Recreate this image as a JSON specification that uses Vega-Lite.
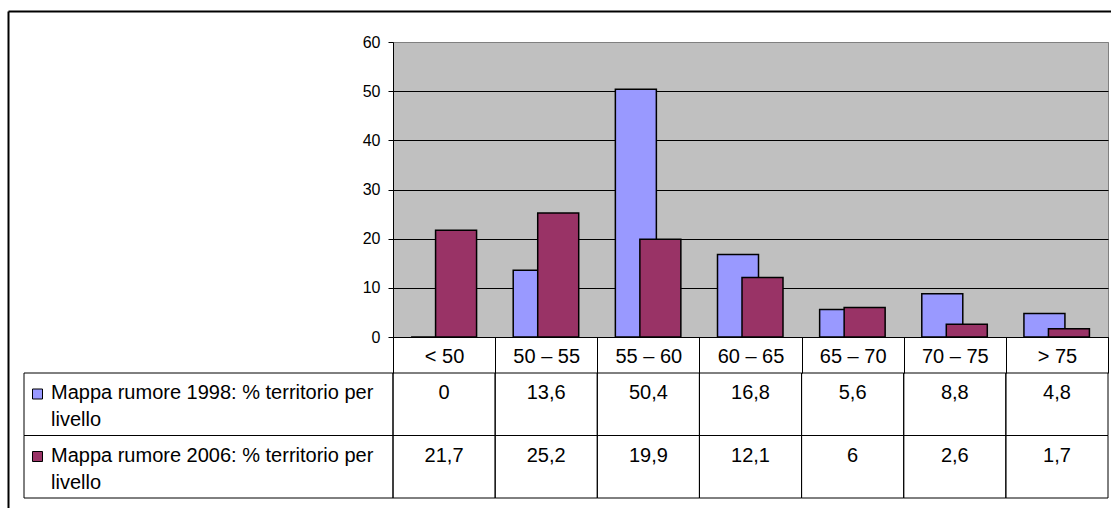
{
  "$schema": "https://vega.github.io/schema/vega-lite/v6.json",
  "width": 715,
  "height": 295,
  "autosize": {"type": "none"},
  "padding": {"left": 393, "top": 42, "right": 3, "bottom": 171},
  "background": "white",
  "config": {
    "font": "Liberation Sans",
    "view": {"fill": "#C0C0C0", "stroke": "#808080", "strokeWidth": 1},
    "locale": {"number": {"decimal": ",", "thousands": ".", "grouping": [3], "currency": ["", " €"]}}
  },
  "datasets": {
    "bars": [
      {"cat": "< 50", "series": "1998", "value": 0},
      {"cat": "50 – 55", "series": "1998", "value": 13.6},
      {"cat": "55 – 60", "series": "1998", "value": 50.4},
      {"cat": "60 – 65", "series": "1998", "value": 16.8},
      {"cat": "65 – 70", "series": "1998", "value": 5.6},
      {"cat": "70 – 75", "series": "1998", "value": 8.8},
      {"cat": "> 75", "series": "1998", "value": 4.8},
      {"cat": "< 50", "series": "2006", "value": 21.7},
      {"cat": "50 – 55", "series": "2006", "value": 25.2},
      {"cat": "55 – 60", "series": "2006", "value": 19.9},
      {"cat": "60 – 65", "series": "2006", "value": 12.1},
      {"cat": "65 – 70", "series": "2006", "value": 6},
      {"cat": "70 – 75", "series": "2006", "value": 2.6},
      {"cat": "> 75", "series": "2006", "value": 1.7}
    ],
    "legend": [
      {"series": "1998", "label": "Mappa rumore 1998: % territorio per\nlivello"},
      {"series": "2006", "label": "Mappa rumore 2006: % territorio per\nlivello"}
    ]
  },
  "layer": [
    {
      "data": {"name": "bars"},
      "transform": [{"filter": "datum.series === '1998'"}],
      "mark": {"type": "bar", "width": 41, "xOffset": -12.5, "stroke": "black", "strokeWidth": 1.5},
      "encoding": {
        "x": {"field": "cat", "type": "nominal",
          "scale": {"type": "band", "domain": ["< 50", "50 – 55", "55 – 60", "60 – 65", "65 – 70", "70 – 75", "> 75"], "paddingInner": 0, "paddingOuter": 0},
          "axis": {"orient": "bottom", "title": null, "domain": true, "domainColor": "black", "domainWidth": 1, "ticks": true, "tickBand": "extent", "tickSize": 36, "tickColor": "black", "tickWidth": 1, "labels": true, "labelFont": "Liberation Sans", "labelFontSize": 20, "labelColor": "black", "labelAngle": 0, "labelPadding": -11, "labelBaseline": "alphabetic", "labelOverlap": false, "labelFlush": false, "grid": false}},
        "y": {"field": "value", "type": "quantitative",
          "scale": {"domain": [0, 60], "nice": false, "zero": true},
          "axis": {"orient": "left", "title": null, "values": [0, 10, 20, 30, 40, 50, 60], "domainColor": "black", "tickColor": "black", "tickSize": 5, "labelFont": "Liberation Sans", "labelFontSize": 16, "labelColor": "black", "labelPadding": 8, "grid": true, "gridColor": {"condition": {"test": "datum.value >= 60", "value": "#808080"}, "value": "black"}, "gridWidth": 1}},
        "color": {"field": "series", "type": "nominal", "scale": {"domain": ["1998", "2006"], "range": ["#9999FF", "#993366"]}, "legend": null}
      }
    },
    {
      "data": {"name": "bars"},
      "transform": [{"filter": "datum.series === '2006'"}],
      "mark": {"type": "bar", "width": 41, "xOffset": 12, "stroke": "black", "strokeWidth": 1.5},
      "encoding": {
        "x": {"field": "cat", "type": "nominal",
          "scale": {"type": "band", "domain": ["< 50", "50 – 55", "55 – 60", "60 – 65", "65 – 70", "70 – 75", "> 75"], "paddingInner": 0, "paddingOuter": 0},
          "axis": null},
        "y": {"field": "value", "type": "quantitative", "scale": {"domain": [0, 60], "nice": false, "zero": true}, "axis": null},
        "color": {"field": "series", "type": "nominal", "scale": {"domain": ["1998", "2006"], "range": ["#9999FF", "#993366"]}, "legend": null}
      }
    },
    {
      "data": {"name": "bars"},
      "mark": {"type": "rect", "fill": "transparent", "stroke": "black", "strokeWidth": 1},
      "encoding": {
        "x": {"field": "cat", "type": "nominal",
          "scale": {"type": "band", "domain": ["< 50", "50 – 55", "55 – 60", "60 – 65", "65 – 70", "70 – 75", "> 75"], "paddingInner": 0, "paddingOuter": 0},
          "axis": null},
        "y": {"field": "series", "type": "nominal", "scale": {"type": "band", "domain": ["1998", "2006"], "range": [331, 456], "paddingInner": 0, "paddingOuter": 0}, "axis": null}
      }
    },
    {
      "data": {"name": "bars"},
      "mark": {"type": "text", "fontSize": 20, "align": "center", "baseline": "alphabetic", "dy": 26, "color": "black"},
      "encoding": {
        "x": {"field": "cat", "type": "nominal",
          "scale": {"type": "band", "domain": ["< 50", "50 – 55", "55 – 60", "60 – 65", "65 – 70", "70 – 75", "> 75"], "paddingInner": 0, "paddingOuter": 0},
          "axis": null},
        "y": {"field": "series", "type": "nominal", "bandPosition": 0, "scale": {"type": "band", "domain": ["1998", "2006"], "range": [331, 456], "paddingInner": 0, "paddingOuter": 0}, "axis": null},
        "text": {"field": "value", "type": "quantitative", "format": ".1~f"}
      }
    },
    {
      "data": {"name": "legend"},
      "mark": {"type": "rect", "fill": "transparent", "stroke": "black", "strokeWidth": 1},
      "encoding": {
        "x": {"datum": "legend", "type": "nominal", "scale": {"type": "band", "domain": ["legend"], "range": [-369, 0], "paddingInner": 0, "paddingOuter": 0}, "axis": null},
        "y": {"field": "series", "type": "nominal", "scale": {"type": "band", "domain": ["1998", "2006"], "range": [331, 456], "paddingInner": 0, "paddingOuter": 0}, "axis": null}
      }
    },
    {
      "data": {"name": "legend"},
      "mark": {"type": "point", "shape": "square", "size": 100, "filled": true, "opacity": 1, "stroke": "black", "strokeWidth": 1, "xOffset": 13.5, "yOffset": 21},
      "encoding": {
        "x": {"datum": "legend", "type": "nominal", "bandPosition": 0, "scale": {"type": "band", "domain": ["legend"], "range": [-369, 0], "paddingInner": 0, "paddingOuter": 0}, "axis": null},
        "y": {"field": "series", "type": "nominal", "bandPosition": 0, "scale": {"type": "band", "domain": ["1998", "2006"], "range": [331, 456], "paddingInner": 0, "paddingOuter": 0}, "axis": null},
        "color": {"field": "series", "type": "nominal", "scale": {"domain": ["1998", "2006"], "range": ["#9999FF", "#993366"]}, "legend": null}
      }
    },
    {
      "data": {"name": "legend"},
      "mark": {"type": "text", "fontSize": 20, "align": "left", "baseline": "alphabetic", "dx": 27, "dy": 26, "lineBreak": "\n", "lineHeight": 27, "color": "black"},
      "encoding": {
        "x": {"datum": "legend", "type": "nominal", "bandPosition": 0, "scale": {"type": "band", "domain": ["legend"], "range": [-369, 0], "paddingInner": 0, "paddingOuter": 0}, "axis": null},
        "y": {"field": "series", "type": "nominal", "bandPosition": 0, "scale": {"type": "band", "domain": ["1998", "2006"], "range": [331, 456], "paddingInner": 0, "paddingOuter": 0}, "axis": null},
        "text": {"field": "label", "type": "nominal"}
      }
    },
    {
      "data": {"name": "legend"},
      "mark": {"type": "text", "text": ""},
      "encoding": {
        "x": {"datum": 0, "type": "quantitative", "scale": {"domain": [0, 1], "range": [-385, 718], "nice": false, "zero": false},
          "axis": {"orient": "top", "offset": 31, "domain": true, "domainColor": "black", "domainWidth": 2, "ticks": false, "labels": false, "grid": false, "title": null}},
        "y": {"datum": 0, "type": "quantitative", "scale": {"domain": [0, 1], "range": [466, -31], "nice": false, "zero": false},
          "axis": {"orient": "left", "offset": 385, "domain": true, "domainColor": "black", "domainWidth": 2, "ticks": false, "labels": false, "grid": false, "title": null}}
      }
    }
  ],
  "resolve": {"scale": {"x": "independent", "y": "independent"}, "axis": {"x": "independent", "y": "independent"}}
}
